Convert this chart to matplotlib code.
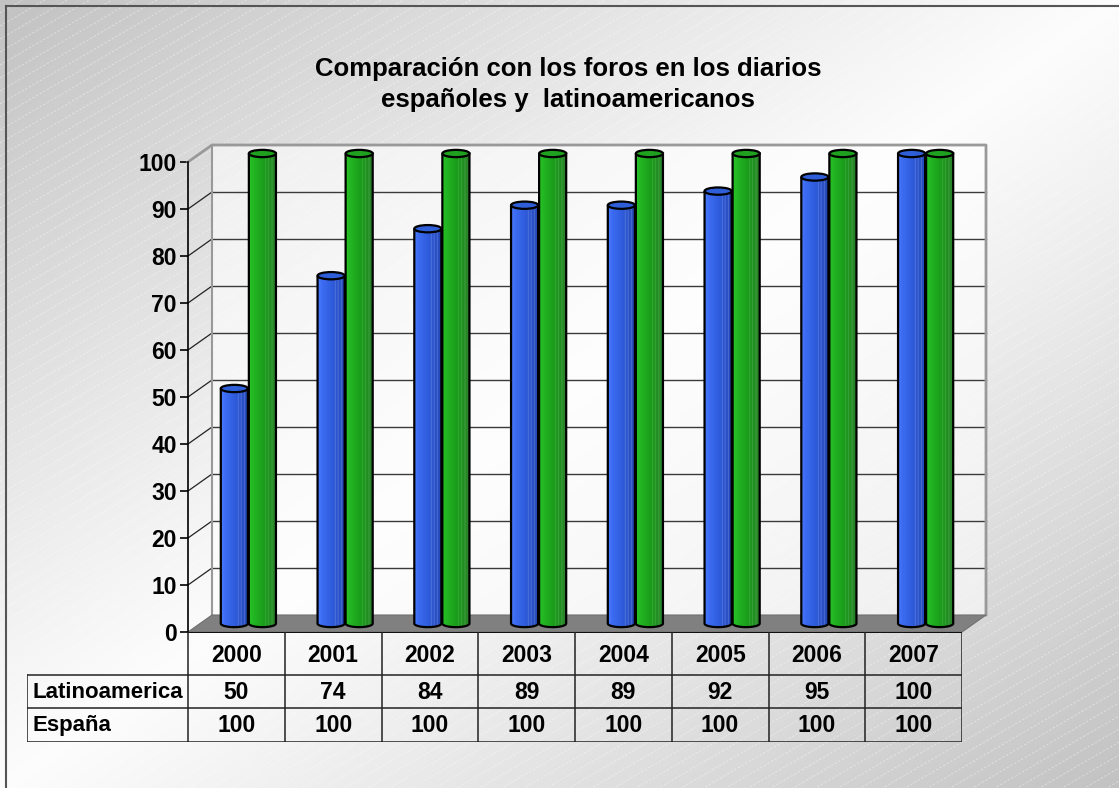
import numpy as np
import matplotlib.pyplot as plt
from matplotlib.patches import Polygon, Ellipse, PathPatch, Rectangle
from matplotlib.path import Path
from matplotlib.colors import to_rgb

plt.rcParams['font.family'] = ['Liberation Sans', 'DejaVu Sans']
plt.rcParams['font.weight'] = 'bold'

title = 'Comparación con los foros en los diarios\nespañoles y  latinoamericanos'
years = ['2000', '2001', '2002', '2003', '2004', '2005', '2006', '2007']
latino = [50, 74, 84, 89, 89, 92, 95, 100]
espana = [100, 100, 100, 100, 100, 100, 100, 100]
series_names = ['Latinoamerica', 'España']
yticks = list(range(0, 101, 10))

W, H = 1119, 788
fig = plt.figure(figsize=(W / 100, H / 100), dpi=100)
fs = 16.5

# --- background: diagonal grey-white-grey gradient with faint hatching
bg = fig.add_axes([0, 0, 1, 1], zorder=0)
yy, xx = np.mgrid[0:H, 0:W]
s = (xx / W + yy / H) / 2
shade = 0.99 - 0.23 * np.abs(2 * s - 1) ** 1.1
bg.imshow(np.dstack([shade] * 3), extent=(0, W, H, 0), aspect='auto')
for c in range(0, W + H + 700, 13):
    bg.plot([0, W], [c, c - 0.58 * W], color='white', lw=0.6, alpha=0.45,
            ls=(0, (3, 2)))
bg.plot([6, 6], [H, 6], color='#555555', lw=1.5)
bg.plot([6, W], [6, 6], color='#555555', lw=1.5)
bg.set_xlim(0, W)
bg.set_ylim(H, 0)
bg.axis('off')

# --- main chart axes (front plane: x 0..8 categories, y 0..100)
px_x, px_y = 96.75, 4.7          # pixels per data unit
x0px, y0px = 188, 632            # pixel position of (0, 0)
xlim, ylim = (-0.3, 8.5), (-4, 106)
left = x0px + xlim[0] * px_x
right = x0px + xlim[1] * px_x
bottom = y0px - ylim[0] * px_y
top = y0px - ylim[1] * px_y
ax = fig.add_axes([left / W, (H - bottom) / H, (right - left) / W,
                   (bottom - top) / H], zorder=1)
ax.patch.set_visible(False)

dx, dy = 24 / px_x, 17 / px_y    # depth offset of the back wall
n = len(years)

# back wall
ax.add_patch(Rectangle((dx, dy), n, 100, facecolor='white', alpha=0.6,
                       edgecolor='none', zorder=1))
for v in yticks[1:-1]:
    ax.plot([dx, n + dx], [v + dy, v + dy], color='#3a3a3a', lw=1, zorder=2)
    ax.plot([0, dx], [v, v + dy], color='#222222', lw=0.9, zorder=2)
ax.plot([0, dx, n + dx, n + dx], [100, 100 + dy, 100 + dy, dy],
        color='#999999', lw=2, zorder=2)
ax.plot([dx, dx], [dy, 100 + dy], color='#999999', lw=1.5, zorder=2)

# floor
ax.add_patch(Polygon([(0, 0), (n, 0), (n + dx, dy), (dx, dy)], closed=True,
                     facecolor='#808080', edgecolor='#707070', lw=0.8,
                     zorder=3))


def make_gradient(stops, stripes, stripe_col, ncol=120):
    pos = np.linspace(0, 1, ncol)
    sp = [p for p, _ in stops]
    cols = np.array([to_rgb(c) for _, c in stops])
    g = np.stack([np.interp(pos, sp, cols[:, k]) for k in range(3)], axis=1)
    sc = np.array(to_rgb(stripe_col))
    for p in stripes:
        m = np.abs(pos - p) < 0.012
        g[m] = 0.5 * g[m] + 0.5 * sc
    return g[np.newaxis, :, :]


blue_grad = make_gradient([(0, '#4a7bff'), (0.15, '#3c6cf2'),
                           (0.5, '#2f5cdc'), (1, '#2446b2')],
                          [0.62, 0.72, 0.84], '#8aa6f0')
green_grad = make_gradient([(0, '#27c227'), (0.3, '#1fac1f'),
                            (0.6, '#1a981a'), (1, '#2e7f2e')],
                           [0.6, 0.7, 0.82], '#66c466')

bar_w, ell_h = 0.28, 1.55
series = [(latino, 0.355, blue_grad, '#2f5fd8'),
          (espana, 0.645, green_grad, '#1fa01f')]


def cylinder(xc, v, grad, top_col, z):
    x0, x1 = xc - bar_w / 2, xc + bar_w / 2
    yb, yt = dy / 2, v + dy / 2
    t = np.linspace(np.pi, 2 * np.pi, 40)
    pts = [(x0, yt), (x0, yb)]
    pts += list(zip(xc + bar_w / 2 * np.cos(t), yb + ell_h / 2 * np.sin(t)))
    pts += [(x1, yt), (x0, yt)]
    body = PathPatch(Path(pts), facecolor='none', edgecolor='black',
                     lw=1.6, zorder=z + 0.1)
    ax.add_patch(body)
    im = ax.imshow(grad, extent=(x0, x1, yb - ell_h, yt), aspect='auto',
                   interpolation='bilinear', zorder=z)
    im.set_clip_path(body)
    ax.add_patch(Ellipse((xc, yt), bar_w, ell_h, facecolor=top_col,
                         edgecolor='black', lw=1.6, zorder=z + 0.2))


z = 4
for i in range(n):
    for vals, off, grad, top_col in series:
        cylinder(i + off + dx / 2, vals[i], grad, top_col, z)
        z += 1

# front value axis
for side in ['top', 'right', 'bottom']:
    ax.spines[side].set_visible(False)
ax.spines['left'].set_position(('data', 0))
ax.spines['left'].set_bounds(0, 100)
ax.spines['left'].set_linewidth(1.2)
ax.spines['left'].set_zorder(3)
ax.set_yticks(yticks)
ax.set_xticks([])
ax.tick_params(axis='y', length=6, width=1.2, pad=2, labelsize=fs)
ax.set_xlim(*xlim)
ax.set_ylim(*ylim)

# --- data table under the chart
lab_w = 161 / px_x
tax = fig.add_axes([27 / W, (H - 742) / H, (962 - 27) / W, 110 / H], zorder=1)
tax.set_xlim(-lab_w, n)
tax.set_ylim(110, 0)
tax.axis('off')
rows = [0, 43, 76, 110]
tax.plot([0, n], [0, 0], color='black', lw=1.3)
for r in rows[1:]:
    tax.plot([-lab_w, n], [r, r], color='#222222', lw=1.1)
tax.plot([-lab_w, -lab_w], [rows[1], rows[3]], color='#222222', lw=1.1)
for i in range(n + 1):
    tax.plot([i, i], [0, rows[3]], color='#222222', lw=1.1)
for i in range(n):
    tax.text(i + 0.5, (rows[0] + rows[1]) / 2 + 2, years[i], ha='center',
             va='center', fontsize=fs)
    tax.text(i + 0.5, (rows[1] + rows[2]) / 2 + 1, str(latino[i]),
             ha='center', va='center', fontsize=fs)
    tax.text(i + 0.5, (rows[2] + rows[3]) / 2 + 1, str(espana[i]),
             ha='center', va='center', fontsize=fs)
for k, name in enumerate(series_names):
    tax.text(-lab_w + 0.06, (rows[k + 1] + rows[k + 2]) / 2 + 1, name,
             ha='left', va='center', fontsize=16)

fig.text(568 / W, 1 - 84.5 / H, title, ha='center', va='center',
         fontsize=18.5, linespacing=1.4)

fig.savefig('out.png', dpi=100)
